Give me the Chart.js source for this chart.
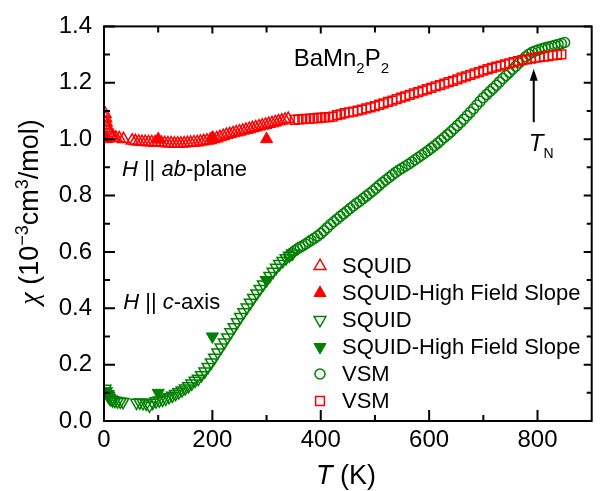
<!DOCTYPE html>
<html>
<head>
<meta charset="utf-8">
<script src="https://cdn.jsdelivr.net/npm/chart.js@4.4.1/dist/chart.umd.min.js"></script>
<style>
  html, body { margin: 0; padding: 0; background: #fff; }
  #wrap { width: 600px; height: 491px; }
</style>
</head>
<body>
<div id="wrap"><canvas id="chi" width="600" height="491"></canvas></div>
<script>
const FONT = '"Liberation Sans", Arial, Helvetica, sans-serif';
const RED = '#ff0000';
const GREEN = '#008000';

// axis ticks
const xTickLabels = [0, 200, 400, 600, 800];
const xMinorTicks = [100, 300, 500, 700];
const yTickLabels = [0, 0.2, 0.4, 0.6, 0.8, 1.0, 1.2, 1.4];
const yMinorTicks = [0.1, 0.3, 0.5, 0.7, 0.9, 1.1, 1.3];

// H || ab-plane, SQUID (open up-triangles)
const abSquidT = [2, 3, 4, 5, 6, 8, 10, 13, 17, 22, 28, 36,
  52, 58, 64, 70, 76, 82, 88, 94, 100, 106, 112, 118, 124, 130, 136, 142, 148, 154, 160, 166, 172, 178,
  184, 190, 196, 202, 208, 214, 220, 226, 232, 238, 244, 250, 256, 262, 268, 274, 280, 286, 292, 298,
  304, 310, 316, 322, 328, 334, 340];
const abSquidChi = [1.090, 1.075, 1.060, 1.048, 1.038, 1.030, 1.022, 1.015, 1.010, 1.005, 1.003, 1.000,
  0.995, 0.993, 0.991, 0.990, 0.990, 0.989, 0.989, 0.988, 0.988, 0.987, 0.986, 0.985, 0.985, 0.984, 0.984, 0.984, 0.985, 0.986, 0.987, 0.988, 0.989, 0.991,
  0.993, 0.995, 0.997, 1.000, 1.003, 1.007, 1.011, 1.015, 1.018, 1.021, 1.024, 1.027, 1.030, 1.033, 1.036, 1.039, 1.042, 1.045, 1.048, 1.051,
  1.054, 1.057, 1.060, 1.063, 1.066, 1.069, 1.072];

// H || ab-plane, SQUID high field slope (filled up-triangles)
const abHfsT = [5, 100, 200, 300];
const abHfsChi = [1.0, 1.0, 1.005, 1.0];

// H || c-axis, SQUID (open down-triangles)
const cSquidT = [2, 4, 6, 8, 10, 13, 16, 20, 25, 30, 35,
  60, 66, 72, 78, 84, 90, 96, 102, 108, 114, 120, 126, 132, 138, 144, 150, 156, 162, 168,
  174, 180, 186, 192, 198, 204, 210, 216, 222, 228, 234, 240, 246, 252, 258, 264, 270, 276, 282, 288,
  294, 300, 306, 312, 318, 324, 330, 336, 342, 348];
const cSquidChi = [0.115, 0.105, 0.095, 0.088, 0.082, 0.077, 0.074, 0.072, 0.070, 0.069, 0.068,
  0.065, 0.066, 0.064, 0.062, 0.055, 0.065, 0.070, 0.073, 0.076, 0.080, 0.085, 0.090, 0.096, 0.102, 0.109, 0.116, 0.124, 0.133, 0.143,
  0.150, 0.163, 0.176, 0.192, 0.208, 0.225, 0.243, 0.261, 0.279, 0.297, 0.315, 0.333, 0.351, 0.369, 0.386, 0.403, 0.420, 0.437, 0.453, 0.469,
  0.485, 0.500, 0.515, 0.530, 0.544, 0.557, 0.568, 0.578, 0.587, 0.595];

// H || c-axis, SQUID high field slope (filled down-triangles)
const cHfsT = [2, 8, 100, 200, 300];
const cHfsChi = [0.105, 0.095, 0.10, 0.30, 0.50];

// H || c-axis, VSM (open circles)
const cVsmT = [342, 347, 352, 357, 362, 367, 372, 377, 382, 388, 394, 400, 406, 412, 418, 424, 430, 436, 442, 448,
  454, 460, 466, 472, 478, 484, 490, 496, 502, 508, 514, 520, 526, 532, 538, 544, 550, 556, 562, 568,
  574, 580, 586, 592, 598, 604, 610, 616, 622, 628, 634, 640, 646, 652, 658, 664, 670, 676, 682, 688,
  694, 700, 706, 712, 718, 724, 730, 736, 742, 748, 754, 760, 766, 772, 778, 784, 790, 796, 802, 808,
  814, 820, 826, 832, 838, 844, 850];
const cVsmChi = [0.586, 0.597, 0.604, 0.611, 0.617, 0.622, 0.628, 0.634, 0.641, 0.648, 0.656, 0.665, 0.675, 0.686, 0.697, 0.707, 0.716, 0.726, 0.735, 0.744,
  0.754, 0.763, 0.772, 0.780, 0.789, 0.798, 0.807, 0.816, 0.826, 0.836, 0.846, 0.855, 0.864, 0.873, 0.882, 0.890, 0.897, 0.904, 0.911, 0.919,
  0.927, 0.935, 0.943, 0.951, 0.959, 0.968, 0.977, 0.986, 0.996, 1.006, 1.016, 1.026, 1.037, 1.048, 1.059, 1.071, 1.083, 1.095, 1.108, 1.121,
  1.134, 1.147, 1.158, 1.169, 1.180, 1.191, 1.203, 1.215, 1.226, 1.237, 1.248, 1.259, 1.270, 1.281, 1.292, 1.301, 1.308, 1.313, 1.317, 1.321,
  1.324, 1.327, 1.330, 1.333, 1.336, 1.339, 1.343];

// H || ab-plane, VSM (open squares)
const abVsmT = [352, 359, 366, 373, 380, 387, 394, 401, 408, 415, 422, 430, 437, 444, 452, 460, 468, 476, 484, 492,
  500, 508, 516, 524, 532, 540, 548, 556, 564, 572, 580, 588, 596, 604, 612, 620, 628, 636, 644, 652,
  660, 668, 676, 684, 692, 700, 708, 716, 724, 732, 740, 748, 756, 764, 772, 780, 788, 796, 804, 812,
  820, 828, 836, 844];
const abVsmChi = [1.068, 1.070, 1.071, 1.072, 1.073, 1.074, 1.075, 1.076, 1.077, 1.078, 1.080, 1.085, 1.088, 1.092, 1.095, 1.098, 1.101, 1.105, 1.109, 1.113,
  1.117, 1.122, 1.127, 1.132, 1.137, 1.142, 1.147, 1.152, 1.157, 1.162, 1.167, 1.172, 1.177, 1.182, 1.187, 1.192, 1.197, 1.202, 1.207, 1.212,
  1.218, 1.223, 1.228, 1.233, 1.238, 1.243, 1.248, 1.253, 1.257, 1.261, 1.265, 1.269, 1.273, 1.277, 1.280, 1.283, 1.286, 1.289, 1.291, 1.293,
  1.295, 1.297, 1.299, 1.301];

const pts = (ts, cs) => ts.map((t, i) => ({ x: t, y: cs[i] }));
const NONE = 'rgba(0,0,0,0)';

const datasets = [
  { label: 'SQUID', data: pts(abSquidT, abSquidChi), pointStyle: 'triangle', rotation: 0,
    pointRadius: 6.8, borderColor: RED, backgroundColor: NONE, pointBorderWidth: 1.5, order: 4 },
  { label: 'SQUID-High Field Slope', data: pts(abHfsT, abHfsChi), pointStyle: 'triangle', rotation: 0,
    pointRadius: 7, borderColor: RED, backgroundColor: RED, pointBorderWidth: 1, order: 0 },
  { label: 'SQUID', data: pts(cSquidT, cSquidChi), pointStyle: 'triangle', rotation: 180,
    pointRadius: 6.8, borderColor: GREEN, backgroundColor: NONE, pointBorderWidth: 1.5, order: 3 },
  { label: 'SQUID-High Field Slope', data: pts(cHfsT, cHfsChi), pointStyle: 'triangle', rotation: 180,
    pointRadius: 7, borderColor: GREEN, backgroundColor: GREEN, pointBorderWidth: 1, order: 0 },
  { label: 'VSM', data: pts(cVsmT, cVsmChi), pointStyle: 'circle',
    pointRadius: 5, borderColor: GREEN, backgroundColor: NONE, pointBorderWidth: 1.5, order: 2 },
  { label: 'VSM', data: pts(abVsmT, abVsmChi), pointStyle: 'rect',
    pointRadius: 6.2, borderColor: RED, backgroundColor: NONE, pointBorderWidth: 1.5, order: 1 }
];
datasets.forEach(d => {
  d.pointBackgroundColor = d.backgroundColor;
  d.pointBorderColor = d.borderColor;
  d.pointHoverRadius = d.pointRadius;
  d.pointRotation = d.rotation || 0;
  d.showLine = false;
  d.clip = 0;
});

// draw text runs with mixed fonts, returns end x
function runs(ctx, parts, x, y) {
  parts.forEach(([t, size, dy, style, fam]) => {
    ctx.font = `${style || 'normal'} ${size}px ${fam || FONT}`;
    ctx.fillText(t, x, y + (dy || 0));
    x += ctx.measureText(t).width;
  });
  return x;
}
function runsWidth(ctx, parts) {
  let w = 0;
  parts.forEach(([t, size, dy, style, fam]) => {
    ctx.font = `${style || 'normal'} ${size}px ${fam || FONT}`;
    w += ctx.measureText(t).width;
  });
  return w;
}

const frameTicks = {
  id: 'frameTicks',
  afterDatasetsDraw(chart) {
    const { ctx, chartArea: a, scales: { x, y } } = chart;
    ctx.save();
    ctx.strokeStyle = '#000';
    ctx.lineWidth = 2;
    ctx.strokeRect(a.left, a.top, a.right - a.left, a.bottom - a.top);
    ctx.beginPath();
    const xt = (v, major) => {
      const px = x.getPixelForValue(v);
      ctx.moveTo(px, a.bottom); ctx.lineTo(px, a.bottom - (major ? 11 : 6));
      ctx.moveTo(px, a.top); ctx.lineTo(px, a.top + (major ? 7 : 6));
    };
    const yt = (v, major) => {
      const py = y.getPixelForValue(v);
      ctx.moveTo(a.left, py); ctx.lineTo(a.left + (major ? 11 : 6), py);
      ctx.moveTo(a.right, py); ctx.lineTo(a.right - (major ? 8 : 5), py);
    };
    xTickLabels.forEach(v => xt(v, true));
    xMinorTicks.forEach(v => xt(v, false));
    yTickLabels.forEach(v => yt(v, true));
    yMinorTicks.forEach(v => yt(v, false));
    ctx.stroke();
    ctx.restore();
  }
};

const labels = {
  id: 'labels',
  afterDraw(chart) {
    const { ctx, scales: { x, y } } = chart;
    ctx.save();
    ctx.fillStyle = '#000';
    ctx.strokeStyle = '#000';
    ctx.textBaseline = 'alphabetic';
    ctx.textAlign = 'left';

    runs(ctx, [['BaMn', 24], ['2', 15, 7], ['P', 24], ['2', 15, 7]], x.getPixelForValue(350), y.getPixelForValue(1.26));
    runs(ctx, [['H', 22, 0, 'italic'], [' || ', 22], ['ab', 22, 0, 'italic'], ['-plane', 22]],
      x.getPixelForValue(33), y.getPixelForValue(0.871));
    runs(ctx, [['H', 22, 0, 'italic'], [' || ', 22], ['c', 22, 0, 'italic'], ['-axis', 22]],
      x.getPixelForValue(35.5), y.getPixelForValue(0.399));
    runs(ctx, [['T', 24, 0, 'italic'], ['N', 14, 7]], x.getPixelForValue(784), y.getPixelForValue(0.957));

    // arrow pointing at T_N
    const ax = x.getPixelForValue(793);
    const tip = y.getPixelForValue(1.25), tail = y.getPixelForValue(1.06);
    ctx.lineWidth = 2;
    ctx.beginPath(); ctx.moveTo(ax, tail); ctx.lineTo(ax, tip + 8); ctx.stroke();
    ctx.beginPath(); ctx.moveTo(ax, tip); ctx.lineTo(ax - 4, tip + 12); ctx.lineTo(ax + 4, tip + 12); ctx.closePath(); ctx.fill();

    // axis titles
    const xt = [['T', 27, 0, 'italic'], [' (K)', 27]];
    runs(ctx, xt, 346 - runsWidth(ctx, xt) / 2, 484);

    const yt = [['\u03c7', 28, 0, 'italic', '"Liberation Serif", serif'], [' (10', 27], ['\u22123', 18, -10], ['cm', 27], ['3', 18, -10], ['/mol)', 27]];
    ctx.translate(38, 212);
    ctx.rotate(-Math.PI / 2);
    runs(ctx, yt, -runsWidth(ctx, yt) / 2, 0);
    ctx.restore();

    // legend
    ctx.save();
    const lx = 320, tx = 342;
    chart.data.datasets.forEach((d, i) => {
      const ly = 266 + i * 27;
      ctx.fillStyle = d.backgroundColor;
      ctx.strokeStyle = d.borderColor;
      ctx.lineWidth = d.pointBorderWidth;
      Chart.helpers.drawPoint(ctx, { pointStyle: d.pointStyle, rotation: d.pointRotation, radius: d.pointRadius, borderWidth: d.pointBorderWidth }, lx, ly);
      ctx.fillStyle = '#000';
      ctx.font = `22px ${FONT}`;
      ctx.textBaseline = 'middle';
      ctx.fillText(d.label, tx, ly + 1);
    });
    ctx.restore();
  }
};

new Chart(document.getElementById('chi'), {
  type: 'scatter',
  data: { datasets },
  options: {
    responsive: false,
    devicePixelRatio: 1,
    animation: false,
    layout: { padding: { top: 20, right: 3, left: 0, bottom: 0 } },
    plugins: { legend: { display: false }, tooltip: { enabled: false } },
    scales: {
      x: {
        type: 'linear', min: 0, max: 900,
        afterBuildTicks: s => { s.ticks = xTickLabels.map(v => ({ value: v })); },
        afterFit: s => { s.height = 70; },
        ticks: { color: '#000', font: { family: FONT, size: 24 }, padding: 5, maxRotation: 0, autoSkip: false,
          callback: v => String(v) },
        grid: { display: false, drawTicks: false },
        border: { display: false }
      },
      y: {
        type: 'linear', min: 0, max: 1.4,
        afterBuildTicks: s => { s.ticks = yTickLabels.map(v => ({ value: v })); },
        afterFit: s => { s.width = 104; },
        ticks: { color: '#000', font: { family: FONT, size: 24 }, padding: 12, autoSkip: false,
          callback: v => v.toFixed(1) },
        grid: { display: false, drawTicks: false },
        border: { display: false }
      }
    }
  },
  plugins: [frameTicks, labels]
});
</script>
</body>
</html>
